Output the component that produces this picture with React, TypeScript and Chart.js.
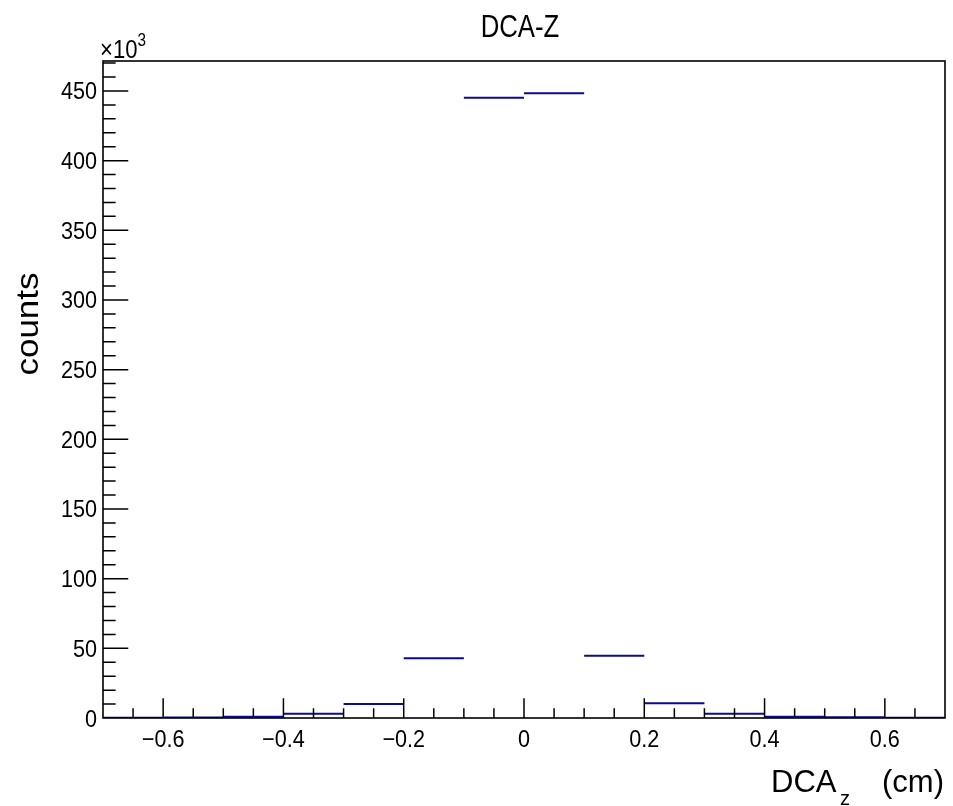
import React, { useEffect, useRef } from 'react';
import { Chart, registerables } from 'chart.js';

Chart.register(...registerables);

// ---- data ----
const binEdges = [-0.7, -0.6, -0.5, -0.4, -0.3, -0.2, -0.1, 0, 0.1, 0.2, 0.3, 0.4, 0.5, 0.6, 0.7];
const binCounts = [100, 300, 950, 3100, 10000, 42800, 445200, 448400, 44700, 10500, 3100, 950, 500, 200];
const xTickValues = [-0.6, -0.4, -0.2, 0, 0.2, 0.4, 0.6];
const yTickValues = [0, 50000, 100000, 150000, 200000, 250000, 300000, 350000, 400000, 450000];
const xRange = [-0.7, 0.7];
const yRange = [0, 471500];
const xMinorStep = 0.05;
const yMinorStep = 10000;

const titleText = 'DCA-Z';
const yTitleText = 'counts';
const xTitleMain = 'DCA';
const xTitleSub = 'z';
const xTitleUnit = '(cm)';
const yExponentBase = '\u00d710';
const yExponent = '3';

const LINE_COLOR = '#0a0a96';
const FONT = "'Liberation Sans', Arial, sans-serif";

const fmtX = (v: number) => (v === 0 ? '0' : v < 0 ? '\u2212' + String(Math.abs(v)) : String(v));
const fmtY = (v: number) => String(v / 1000);

const decorPlugin = {
  id: 'rootDecor',
  afterDraw(chart: any) {
    const ctx = chart.ctx as CanvasRenderingContext2D;
    const { left, right, top, bottom } = chart.chartArea;
    const xs = chart.scales.x;
    const ys = chart.scales.y;
    const w = right - left;
    const h = bottom - top;
    ctx.save();
    ctx.strokeStyle = '#000';
    ctx.lineWidth = 1.6;
    ctx.strokeRect(left, top, w, h);

    const xMajLen = 0.03 * h;
    const xMinLen = 0.015 * h;
    ctx.lineWidth = 1.5;
    ctx.beginPath();
    const nx = Math.round((xRange[1] - xRange[0]) / xMinorStep);
    for (let i = 0; i <= nx; i++) {
      const v = +(xRange[0] + i * xMinorStep).toFixed(4);
      const isMaj = xTickValues.some((t) => Math.abs(t - v) < 1e-6);
      if (v <= xRange[0] + 1e-6 || v >= xRange[1] - 1e-6) continue;
      const px = xs.getPixelForValue(v);
      ctx.moveTo(px, bottom);
      ctx.lineTo(px, bottom - (isMaj ? xMajLen : xMinLen));
    }
    const yMajLen = 0.03 * w;
    const yMinLen = 0.015 * w;
    const ny = Math.floor((yRange[1] - yRange[0]) / yMinorStep);
    for (let i = 1; i <= ny; i++) {
      const v = yRange[0] + i * yMinorStep;
      const isMaj = yTickValues.includes(v);
      const py = ys.getPixelForValue(v);
      ctx.moveTo(left, py);
      ctx.lineTo(left + (isMaj ? yMajLen : yMinLen), py);
    }
    ctx.stroke();

    ctx.fillStyle = '#000';

    // tick labels (from the axes' own ticks)
    ctx.font = `24px ${FONT}`;
    ctx.textBaseline = 'alphabetic';
    for (const t of xs.ticks) {
      const px = xs.getPixelForValue(t.value);
      ctx.save();
      ctx.translate(px, 747);
      ctx.scale(0.9, 1);
      ctx.textAlign = 'center';
      ctx.fillText(fmtX(t.value), 0, 0);
      ctx.restore();
    }
    for (const t of ys.ticks) {
      const py = ys.getPixelForValue(t.value);
      ctx.save();
      ctx.translate(97, py + 8.5);
      ctx.scale(0.9, 1);
      ctx.textAlign = 'right';
      ctx.fillText(fmtY(t.value), 0, 0);
      ctx.restore();
    }

    // title
    ctx.save();
    ctx.font = `31px ${FONT}`;
    ctx.textAlign = 'center';
    ctx.textBaseline = 'alphabetic';
    ctx.translate(520, 37);
    ctx.scale(0.83, 1);
    ctx.fillText(titleText, 0, 0);
    ctx.restore();

    // y title (rotated)
    ctx.save();
    ctx.font = `35px ${FONT}`;
    ctx.textAlign = 'center';
    ctx.textBaseline = 'alphabetic';
    ctx.translate(38, 324);
    ctx.scale(0.87, 1);
    ctx.rotate(-Math.PI / 2);
    ctx.fillText(yTitleText, 0, 0);
    ctx.restore();

    // x title
    ctx.save();
    ctx.textBaseline = 'alphabetic';
    ctx.textAlign = 'right';
    ctx.font = `31px ${FONT}`;
    ctx.fillText(xTitleUnit, 944, 792);
    ctx.textAlign = 'left';
    ctx.fillText(xTitleMain, 771, 792);
    ctx.font = `20px ${FONT}`;
    ctx.fillText(xTitleSub, 840, 805);
    ctx.restore();

    // exponent label
    ctx.save();
    ctx.textBaseline = 'alphabetic';
    ctx.textAlign = 'left';
    ctx.font = `26px ${FONT}`;
    ctx.translate(100, 58);
    ctx.scale(0.85, 1);
    ctx.fillText(yExponentBase, 0, 0);
    ctx.font = `18px ${FONT}`;
    ctx.fillText(yExponent, 44, -12);
    ctx.restore();

    ctx.restore();
  },
};

export default function App() {
  const ref = useRef<HTMLCanvasElement>(null);
  useEffect(() => {
    if (!ref.current) return;
    const points: any[] = [];
    for (let i = 0; i < binCounts.length; i++) {
      points.push({ x: binEdges[i], y: binCounts[i] });
      points.push({ x: binEdges[i + 1], y: binCounts[i] });
      points.push({ x: (binEdges[i + 1] + (binEdges[i + 2] ?? binEdges[i + 1])) / 2, y: null });
    }
    const chart = new Chart(ref.current, {
      type: 'line',
      data: {
        datasets: [
          {
            data: points,
            borderColor: LINE_COLOR,
            borderWidth: 2,
            pointRadius: 0,
            spanGaps: false,
            tension: 0,
            fill: false,
          },
        ],
      },
      options: {
        animation: false,
        responsive: false,
        events: [],
        layout: { padding: { left: 0, right: 8, top: 61, bottom: 0 } },
        plugins: { legend: { display: false }, title: { display: false }, tooltip: { enabled: false } },
        scales: {
          x: {
            type: 'linear',
            min: xRange[0],
            max: xRange[1],
            grid: { display: false, drawTicks: false },
            border: { display: false },
            afterBuildTicks: (axis: any) => {
              axis.ticks = xTickValues.map((v) => ({ value: v }));
            },
            afterFit: (axis: any) => {
              axis.height = 88;
            },
            ticks: { display: false, autoSkip: false, maxRotation: 0 },
          },
          y: {
            type: 'linear',
            min: yRange[0],
            max: yRange[1],
            grid: { display: false, drawTicks: false },
            border: { display: false },
            afterBuildTicks: (axis: any) => {
              axis.ticks = yTickValues.map((v) => ({ value: v }));
            },
            afterFit: (axis: any) => {
              axis.width = 103;
            },
            ticks: { display: false, autoSkip: false },
          },
        },
      },
      plugins: [decorPlugin],
    } as any);
    return () => chart.destroy();
  }, []);
  return (
    <div style={{ position: 'absolute', left: 0, top: 0, width: 953, height: 806, background: '#fff' }}>
      <canvas ref={ref} width={953} height={806} style={{ display: 'block' }} />
    </div>
  );
}
